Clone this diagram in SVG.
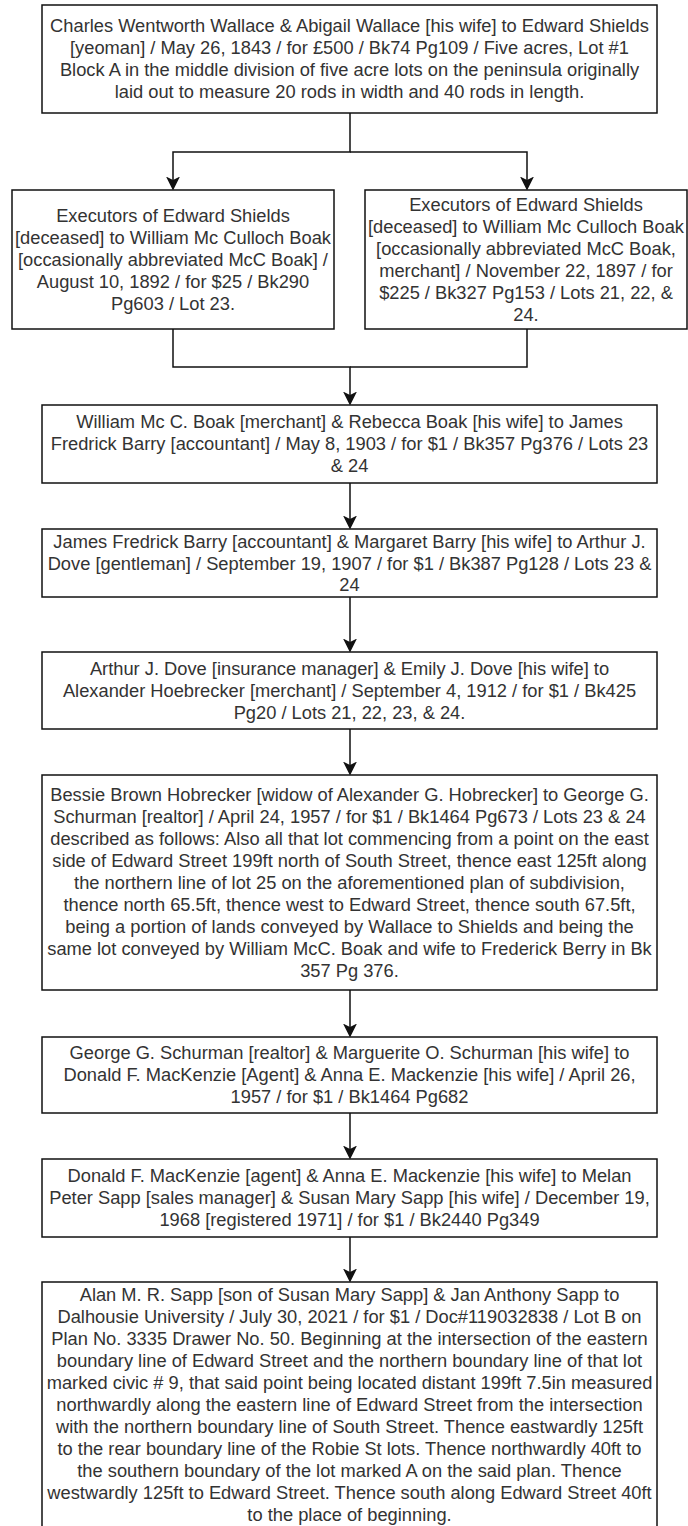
<svg xmlns="http://www.w3.org/2000/svg" width="688" height="1526" viewBox="0 0 688 1526">
<style>
.box{fill:#fff;stroke:#111;stroke-width:1.5}
.t{font-family:"Liberation Sans",Arial,sans-serif;font-size:18.3px;fill:#333;text-anchor:middle}
.c{fill:none;stroke:#111;stroke-width:1.5}
</style>
<defs>
<marker id="arr" markerUnits="userSpaceOnUse" markerWidth="14" markerHeight="14" viewBox="0 0 12 12" refX="9" refY="6" orient="auto">
<path d="M0,0 L12,6 L0,12 L3,6 Z" fill="#111"/>
</marker>
</defs>
<rect width="688" height="1526" fill="#fff"/>
<g id="connectors">
<path class="c" d="M350,113 V152 H173 V187" marker-end="url(#arr)"/>
<path class="c" d="M350,152 H527 V187" marker-end="url(#arr)"/>
<path class="c" d="M173,329 V367 H350 V402" marker-end="url(#arr)"/>
<path class="c" d="M527,329 V367 H350"/>
<path class="c" d="M350,483 V526" marker-end="url(#arr)"/>
<path class="c" d="M350,597 V649" marker-end="url(#arr)"/>
<path class="c" d="M350,729 V772" marker-end="url(#arr)"/>
<path class="c" d="M350,990 V1034" marker-end="url(#arr)"/>
<path class="c" d="M350,1113 V1156" marker-end="url(#arr)"/>
<path class="c" d="M350,1237 V1279" marker-end="url(#arr)"/>
</g>
<g id="n1">
<rect class="box" x="42" y="5" width="615" height="108"/>
<text class="t" x="349.5" y="32">Charles Wentworth Wallace &amp; Abigail Wallace [his wife] to Edward Shields</text>
<text class="t" x="349.5" y="54">[yeoman] / May 26, 1843 / for £500 / Bk74 Pg109 / Five acres, Lot #1</text>
<text class="t" x="349.5" y="76">Block A in the middle division of five acre lots on the peninsula originally</text>
<text class="t" x="349.5" y="98">laid out to measure 20 rods in width and 40 rods in length.</text>
</g>
<g id="n2">
<rect class="box" x="12" y="190" width="322" height="139"/>
<text class="t" x="173" y="221.5">Executors of Edward Shields</text>
<text class="t" x="173" y="243.5">[deceased] to William Mc Culloch Boak</text>
<text class="t" x="173" y="265.5">[occasionally abbreviated McC Boak] /</text>
<text class="t" x="173" y="287.5">August 10, 1892 / for $25 / Bk290</text>
<text class="t" x="173" y="309.5">Pg603 / Lot 23.</text>
</g>
<g id="n3">
<rect class="box" x="365" y="190" width="322" height="139"/>
<text class="t" x="526" y="210.5">Executors of Edward Shields</text>
<text class="t" x="526" y="232.5">[deceased] to William Mc Culloch Boak</text>
<text class="t" x="526" y="254.5">[occasionally abbreviated McC Boak,</text>
<text class="t" x="526" y="276.5">merchant] / November 22, 1897 / for</text>
<text class="t" x="526" y="298.5">$225 / Bk327 Pg153 / Lots 21, 22, &amp;</text>
<text class="t" x="526" y="320.5">24.</text>
</g>
<g id="n4">
<rect class="box" x="42" y="405" width="615" height="78"/>
<text class="t" x="349.5" y="428">William Mc C. Boak [merchant] &amp; Rebecca Boak [his wife] to James</text>
<text class="t" x="349.5" y="450">Fredrick Barry [accountant] / May 8, 1903 / for $1 / Bk357 Pg376 / Lots 23</text>
<text class="t" x="349.5" y="472">&amp; 24</text>
</g>
<g id="n5">
<rect class="box" x="42" y="529" width="615" height="68"/>
<text class="t" x="349.5" y="548">James Fredrick Barry [accountant] &amp; Margaret Barry [his wife] to Arthur J.</text>
<text class="t" x="349.5" y="569.5">Dove [gentleman] / September 19, 1907 / for $1 / Bk387 Pg128 / Lots 23 &amp;</text>
<text class="t" x="349.5" y="591">24</text>
</g>
<g id="n6">
<rect class="box" x="42" y="652" width="615" height="77"/>
<text class="t" x="349.5" y="674.5">Arthur J. Dove [insurance manager] &amp; Emily J. Dove [his wife] to</text>
<text class="t" x="349.5" y="696.5">Alexander Hoebrecker [merchant] / September 4, 1912 / for $1 / Bk425</text>
<text class="t" x="349.5" y="718.5">Pg20 / Lots 21, 22, 23, &amp; 24.</text>
</g>
<g id="n7">
<rect class="box" x="42" y="775" width="615" height="215"/>
<text class="t" x="349.5" y="800.5">Bessie Brown Hobrecker [widow of Alexander G. Hobrecker] to George G.</text>
<text class="t" x="349.5" y="822.5">Schurman [realtor] / April 24, 1957 / for $1 / Bk1464 Pg673 / Lots 23 &amp; 24</text>
<text class="t" x="349.5" y="844.5">described as follows: Also all that lot commencing from a point on the east</text>
<text class="t" x="349.5" y="866.5">side of Edward Street 199ft north of South Street, thence east 125ft along</text>
<text class="t" x="349.5" y="888.5">the northern line of lot 25 on the aforementioned plan of subdivision,</text>
<text class="t" x="349.5" y="910.5">thence north 65.5ft, thence west to Edward Street, thence south 67.5ft,</text>
<text class="t" x="349.5" y="932.5">being a portion of lands conveyed by Wallace to Shields and being the</text>
<text class="t" x="349.5" y="954.5">same lot conveyed by William McC. Boak and wife to Frederick Berry in Bk</text>
<text class="t" x="349.5" y="976.5">357 Pg 376.</text>
</g>
<g id="n8">
<rect class="box" x="42" y="1037" width="615" height="76"/>
<text class="t" x="349.5" y="1059">George G. Schurman [realtor] &amp; Marguerite O. Schurman [his wife] to</text>
<text class="t" x="349.5" y="1081">Donald F. MacKenzie [Agent] &amp; Anna E. Mackenzie [his wife] / April 26,</text>
<text class="t" x="349.5" y="1103">1957 / for $1 / Bk1464 Pg682</text>
</g>
<g id="n9">
<rect class="box" x="42" y="1159" width="615" height="78"/>
<text class="t" x="349.5" y="1182">Donald F. MacKenzie [agent] &amp; Anna E. Mackenzie [his wife] to Melan</text>
<text class="t" x="349.5" y="1204">Peter Sapp [sales manager] &amp; Susan Mary Sapp [his wife] / December 19,</text>
<text class="t" x="349.5" y="1226">1968 [registered 1971] / for $1 / Bk2440 Pg349</text>
</g>
<g id="n10">
<rect class="box" x="42" y="1282" width="615" height="246"/>
<text class="t" x="349.5" y="1301">Alan M. R. Sapp [son of Susan Mary Sapp] &amp; Jan Anthony Sapp to</text>
<text class="t" x="349.5" y="1323">Dalhousie University / July 30, 2021 / for $1 / Doc#119032838 / Lot B on</text>
<text class="t" x="349.5" y="1345">Plan No. 3335 Drawer No. 50. Beginning at the intersection of the eastern</text>
<text class="t" x="349.5" y="1367">boundary line of Edward Street and the northern boundary line of that lot</text>
<text class="t" x="349.5" y="1389">marked civic # 9, that said point being located distant 199ft 7.5in measured</text>
<text class="t" x="349.5" y="1411">northwardly along the eastern line of Edward Street from the intersection</text>
<text class="t" x="349.5" y="1433">with the northern boundary line of South Street. Thence eastwardly 125ft</text>
<text class="t" x="349.5" y="1455">to the rear boundary line of the Robie St lots. Thence northwardly 40ft to</text>
<text class="t" x="349.5" y="1477">the southern boundary of the lot marked A on the said plan. Thence</text>
<text class="t" x="349.5" y="1499">westwardly 125ft to Edward Street. Thence south along Edward Street 40ft</text>
<text class="t" x="349.5" y="1521">to the place of beginning.</text>
</g>
</svg>
